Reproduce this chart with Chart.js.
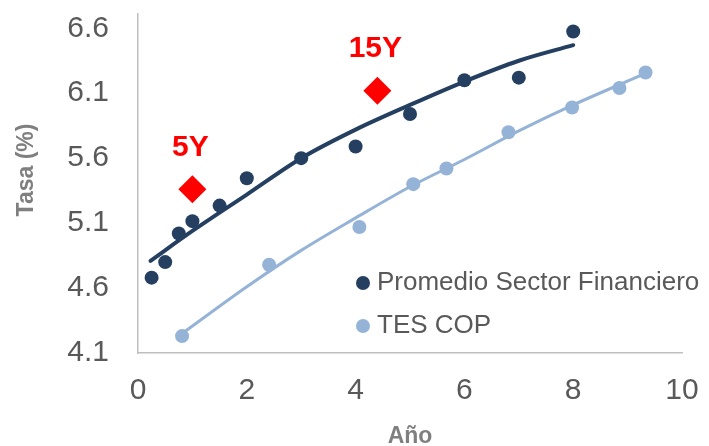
<!DOCTYPE html>
<html>
<head>
<meta charset="utf-8">
<script src="https://cdn.jsdelivr.net/npm/chart.js@4.4.1/dist/chart.umd.min.js"></script>
<style>
  html, body { margin: 0; padding: 0; background: #fff; }
  #wrap { width: 709px; height: 446px; }
</style>
</head>
<body>
<div id="wrap"><canvas id="curva" width="709" height="446"></canvas></div>
<script>
// promedio sector financiero (años, tasa %)
const sectorYears = [0.25, 0.5, 0.75, 1, 1.5, 2, 3, 4, 5, 6, 7, 8];
const sectorRates = [4.68, 4.80, 5.02, 5.115, 5.235, 5.445, 5.60, 5.69, 5.94, 6.20, 6.22, 6.575];

// TES COP
const tesYears = [0.81, 2.41, 4.07, 5.06, 5.67, 6.81, 7.98, 8.85, 9.33];
const tesRates = [4.23, 4.78, 5.07, 5.40, 5.52, 5.80, 5.99, 6.14, 6.26];

// tendencias
const sectorTrendX = [0.23, 1, 2, 3, 4, 5, 6, 7, 8];
const sectorTrendY = [4.81, 5.04, 5.32, 5.60, 5.82, 6.01, 6.19, 6.35, 6.47];
const tesTrendX = [0.86, 2, 3, 4, 5, 6, 7, 8, 9.35];
const tesTrendY = [4.265, 4.61, 4.89, 5.14, 5.38, 5.59, 5.81, 6.01, 6.256];

// referencias 5Y / 15Y
const benchYears = [1, 4.4];
const benchRates = [5.36, 6.12];
const benchLabels = ['5Y', '15Y'];

const xTicks = [0, 2, 4, 6, 8, 10];
const yTicks = [4.1, 4.6, 5.1, 5.6, 6.1, 6.6];

const NAVY = '#253F61';
const LIGHT = '#95B3D7';
const RED = '#FF0000';
const FONT = '"Liberation Sans", Arial, sans-serif';

const pts = (xs, ys) => xs.map((x, i) => ({ x: x, y: ys[i] }));

// etiquetas, leyenda y título del eje Y
const extras = {
  id: 'extras',
  afterDatasetsDraw(chart) {
    const ctx = chart.ctx;
    const area = chart.chartArea;
    ctx.save();

    // 5Y / 15Y
    const meta = chart.getDatasetMeta(4);
    ctx.fillStyle = RED;
    ctx.font = 'bold 30px ' + FONT;
    ctx.textAlign = 'center';
    ctx.textBaseline = 'middle';
    meta.data.forEach((el, i) => {
      ctx.fillText(benchLabels[i], el.x - 2, el.y - 42);
    });

    // leyenda
    const items = [
      { text: 'Promedio Sector Financiero', color: NAVY },
      { text: 'TES COP', color: LIGHT }
    ];
    ctx.font = '26px ' + FONT;
    ctx.textAlign = 'left';
    items.forEach((it, i) => {
      const cy = area.top + 269 + i * 43;
      const cx = area.right - 319;
      ctx.fillStyle = it.color;
      ctx.beginPath();
      ctx.arc(cx, cy, 7, 0, Math.PI * 2);
      ctx.fill();
      ctx.fillStyle = '#595959';
      ctx.fillText(it.text, cx + 14, cy);
    });

    // título eje Y
    ctx.translate(27, 170);
    ctx.rotate(-Math.PI / 2);
    ctx.textAlign = 'center';
    ctx.fillStyle = '#7F7F7F';
    ctx.font = 'bold 23px ' + FONT;
    ctx.fillText('Tasa (%)', 0, 0);
    ctx.restore();
  }
};

new Chart(document.getElementById('curva'), {
  type: 'scatter',
  data: {
    datasets: [
      {
        label: 'Tendencia sector',
        type: 'line',
        data: pts(sectorTrendX, sectorTrendY),
        borderColor: NAVY,
        borderWidth: 4,
        pointRadius: 0,
        tension: 0.4,
        cubicInterpolationMode: 'monotone',
        borderCapStyle: 'round',
        fill: false,
        order: 3
      },
      {
        label: 'Tendencia TES',
        type: 'line',
        data: pts(tesTrendX, tesTrendY),
        borderColor: LIGHT,
        borderWidth: 3,
        pointRadius: 0,
        tension: 0.4,
        cubicInterpolationMode: 'monotone',
        borderCapStyle: 'round',
        fill: false,
        order: 3
      },
      {
        label: 'Promedio Sector Financiero',
        data: pts(sectorYears, sectorRates),
        backgroundColor: NAVY,
        borderWidth: 0,
        pointRadius: 7,
        order: 2
      },
      {
        label: 'TES COP',
        data: pts(tesYears, tesRates),
        backgroundColor: LIGHT,
        borderWidth: 0,
        pointRadius: 7,
        order: 2
      },
      {
        label: 'Referencias',
        data: pts(benchYears, benchRates),
        backgroundColor: RED,
        borderWidth: 0,
        pointStyle: 'rectRot',
        pointRadius: 14,
        order: 1
      }
    ]
  },
  options: {
    responsive: false,
    devicePixelRatio: 1,
    animation: false,
    layout: { padding: { top: 12, right: 27, left: 0, bottom: 0 } },
    plugins: {
      legend: { display: false },
      tooltip: { enabled: false }
    },
    scales: {
      x: {
        type: 'linear',
        min: 0,
        max: 10,
        afterBuildTicks: s => { s.ticks = xTicks.map(v => ({ value: v })); },
        afterFit: s => { s.height = 93; s.paddingLeft = 0; s.paddingRight = 0; },
        ticks: { color: '#595959', font: { family: FONT, size: 30 }, padding: 20 },
        grid: { display: false, drawTicks: false },
        border: { display: true, color: '#BFBFBF', width: 1.5 },
        title: {
          display: true,
          text: 'Año',
          color: '#7F7F7F',
          font: { family: FONT, size: 23, weight: 'bold', lineHeight: 0.8 },
          padding: 0
        }
      },
      y: {
        type: 'linear',
        min: 4.1,
        max: 6.71,
        afterBuildTicks: s => { s.ticks = yTicks.map(v => ({ value: v })); },
        afterFit: s => { s.width = 138; s.paddingTop = 0; s.paddingBottom = 0; },
        ticks: {
          color: '#595959',
          font: { family: FONT, size: 30 },
          padding: 29,
          callback: v => v.toFixed(1)
        },
        grid: { display: false, drawTicks: false },
        border: { display: true, color: '#BFBFBF', width: 1.5 }
      }
    }
  },
  plugins: [extras]
});
</script>
</body>
</html>
